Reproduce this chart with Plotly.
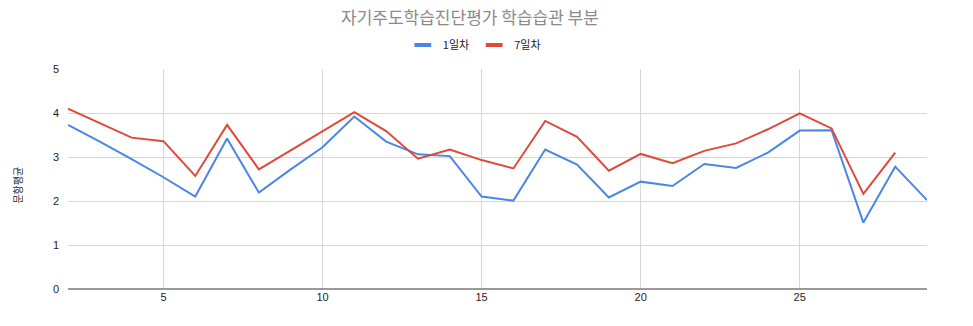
import plotly.graph_objects as go

# 문항 번호
items = list(range(2, 30))

# 1일차 문항별 평균
day1 = [3.73, 3.35, 2.95, 2.54, 2.10, 3.42, 2.19, 2.72, 3.22, 3.92, 3.35, 3.06, 3.02,
        2.10, 2.01, 3.17, 2.83, 2.08, 2.44, 2.34, 2.84, 2.75, 3.10, 3.60, 3.61, 1.51,
        2.78, 2.02]

# 7일차 문항별 평균 (마지막 문항 없음)
day7 = [4.10, 3.77, 3.44, 3.36, 2.57, 3.73, 2.72, 3.15, 3.59, 4.02, 3.59, 2.96, 3.17,
        2.93, 2.74, 3.82, 3.46, 2.69, 3.07, 2.86, 3.14, 3.31, 3.63, 3.99, 3.65, 2.16,
        3.10, None]

series_names = ["1일차", "7일차"]
series_colors = ["#4a86e8", "#e0483a"]

x_ticks = [5, 10, 15, 20, 25]
y_ticks = [0, 1, 2, 3, 4, 5]

W, H = 973, 326
L, R, T, B = 68, 46, 69, 37

KR = "'Noto Sans CJK KR', 'Liberation Sans', sans-serif"
LAT = "'Liberation Sans', Arial, sans-serif"

fig = go.Figure()
for name, vals, color in zip(series_names, [day1, day7], series_colors):
    fig.add_trace(go.Scatter(x=items, y=vals, mode="lines", name=name, legendgroup=name,
                             showlegend=False, line=dict(color=color, width=2)))
    # short bar-shaped legend key
    fig.add_trace(go.Scatter(x=[None], y=[None], mode="markers", name=name, legendgroup=name,
                             showlegend=True,
                             marker=dict(symbol="line-ew", size=12,
                                         line=dict(color=color, width=4))))

fig.update_layout(
    width=W, height=H,
    margin=dict(l=L, r=R, t=T, b=B),
    paper_bgcolor="white", plot_bgcolor="white",
    font=dict(family=LAT, size=11, color="#222222"),
    title=dict(text="자기주도학습진단평가 학습습관 부분", x=0.483, xanchor="center",
               y=1 - 18 / H, yanchor="middle",
               font=dict(size=17, color="#8a8a8a", family=KR)),
    legend=dict(orientation="h", x=0.473, xanchor="center", y=1 + 24 / (H - T - B),
                yanchor="middle", font=dict(size=11, color="#222222", family=KR),
                itemwidth=30, bgcolor="rgba(0,0,0,0)"),
    showlegend=True,
)

fig.update_xaxes(range=[2, 29], tickvals=x_ticks, showgrid=True, gridcolor="#d6d6d6",
                 gridwidth=1, zeroline=False, showline=False, ticks="",
                 tickfont=dict(size=11, color="#222222", family=LAT))
fig.update_yaxes(range=[0, 5], tickvals=y_ticks, showgrid=True, gridcolor="#d6d6d6",
                 gridwidth=1, zeroline=True, zerolinecolor="#999999", zerolinewidth=2,
                 showline=False, ticks="", ticklabelstandoff=8,
                 tickfont=dict(size=11, color="#222222", family=LAT))

fig.add_annotation(text="문항평균", textangle=-90, xref="paper", yref="paper",
                   x=(18 - L) / (W - L - R), y=0.47, xanchor="center", yanchor="middle",
                   showarrow=False,
                   font=dict(size=10, color="#222222", family=KR))

fig.write_html("out.html")
